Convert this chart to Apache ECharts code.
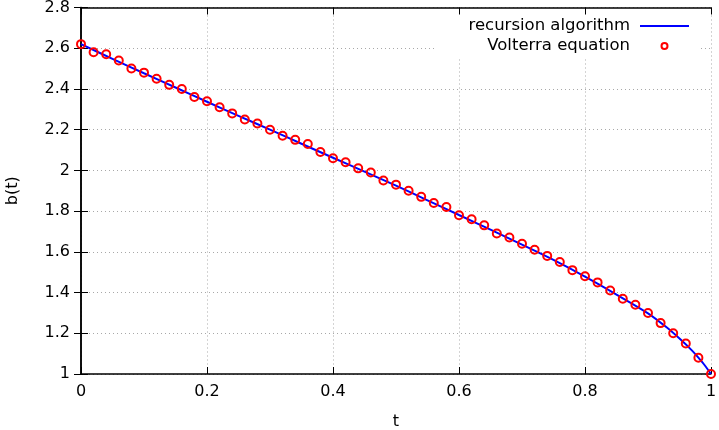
<!DOCTYPE html>
<html>
<head>
<meta charset="utf-8">
<script src="https://cdn.jsdelivr.net/npm/echarts@6/dist/echarts.min.js"></script>
<style>
  html, body { margin: 0; padding: 0; background: #ffffff; }
  #chart { width: 719px; height: 430px; }
</style>
</head>
<body>
<div id="chart"></div>
<script>
// Recursion algorithm curve (t, b(t))
const tLine = [0, 0.05, 0.10, 0.15, 0.20, 0.25, 0.30, 0.35, 0.40, 0.45, 0.50, 0.55, 0.60, 0.65, 0.70, 0.75, 0.80, 0.85, 0.90, 0.93, 0.95, 0.97, 0.98, 0.99, 1.00];
const bLine = [2.620, 2.548, 2.477, 2.407, 2.337, 2.268, 2.200, 2.131, 2.062, 1.994, 1.925, 1.853, 1.781, 1.709, 1.635, 1.560, 1.478, 1.390, 1.298, 1.228, 1.174, 1.115, 1.080, 1.043, 1.000];

// Volterra equation points
const tVolterra = [0, 0.02, 0.04, 0.06, 0.08, 0.10, 0.12, 0.14, 0.16, 0.18, 0.20, 0.22, 0.24, 0.26, 0.28, 0.30, 0.32, 0.34, 0.36, 0.38, 0.40, 0.42, 0.44, 0.46, 0.48, 0.50, 0.52, 0.54, 0.56, 0.58, 0.60, 0.62, 0.64, 0.66, 0.68, 0.70, 0.72, 0.74, 0.76, 0.78, 0.80, 0.82, 0.84, 0.86, 0.88, 0.90, 0.92, 0.94, 0.96, 0.98, 1.00];
const bVolterra = [2.62, 2.58, 2.57, 2.54, 2.50, 2.48, 2.45, 2.42, 2.40, 2.36, 2.34, 2.31, 2.28, 2.25, 2.23, 2.20, 2.17, 2.15, 2.13, 2.09, 2.06, 2.04, 2.01, 1.99, 1.95, 1.93, 1.90, 1.87, 1.84, 1.82, 1.78, 1.76, 1.73, 1.69, 1.67, 1.64, 1.61, 1.58, 1.55, 1.51, 1.48, 1.45, 1.41, 1.37, 1.34, 1.30, 1.25, 1.20, 1.15, 1.08, 1.00];

const seriesNames = ['recursion algorithm', 'Volterra equation'];
const xName = 't';
const yName = 'b(t)';

const FONT = 'DejaVu Sans';
const chart = echarts.init(document.getElementById('chart'), null, { renderer: 'canvas' });

const tickStyle = { show: true, inside: true, length: 7, lineStyle: { color: '#000', width: 1 } };
const axisLineStyle = { show: true, lineStyle: { color: '#000', width: 1.5 } };
const gridLine = { show: true, lineStyle: { color: '#a8a8a8', width: 1, type: [1, 3] } };

chart.setOption({
  animation: false,
  backgroundColor: '#ffffff',
  textStyle: { fontFamily: FONT },
  grid: { left: 81, right: 8, top: 7.5, bottom: 56, outerBoundsMode: 'none', containLabel: false },
  legend: {
    orient: 'vertical',
    align: 'right',
    right: 19,
    top: 15,
    padding: [1, 11, 1, 34],
    backgroundColor: '#ffffff',
    itemGap: 0,
    itemWidth: 49,
    itemHeight: 6,
    textStyle: { fontFamily: FONT, fontSize: 16.5, color: '#000', lineHeight: 20, padding: [0, 5, 0, 0] },
    data: [
      { name: seriesNames[0], icon: 'path://M0,0L49,0L49,2L0,2Z', itemStyle: { color: '#0000ff', borderWidth: 0 } },
      { name: seriesNames[1], icon: 'circle', itemStyle: { color: 'transparent', borderColor: '#ff0000', borderWidth: 2 } }
    ]
  },
  xAxis: [
    {
      type: 'value', min: 0, max: 1, interval: 0.2,
      name: xName, nameLocation: 'middle', nameGap: 40,
      nameTextStyle: { fontFamily: FONT, fontSize: 16, color: '#000' },
      axisLine: axisLineStyle, axisTick: tickStyle,
      axisLabel: { fontFamily: FONT, fontSize: 16, color: '#000', margin: 10 },
      splitLine: gridLine
    },
    {
      type: 'value', min: 0, max: 1, interval: 0.2, position: 'top',
      axisLine: axisLineStyle, axisTick: tickStyle,
      axisLabel: { show: false }, splitLine: { show: false }
    }
  ],
  yAxis: [
    {
      type: 'value', min: 1, max: 2.8, interval: 0.2,
      name: yName, nameLocation: 'middle', nameGap: 60, nameRotate: 90,
      nameTextStyle: { fontFamily: FONT, fontSize: 16, color: '#000' },
      axisLine: axisLineStyle, axisTick: tickStyle,
      axisLabel: { fontFamily: FONT, fontSize: 16, color: '#000', margin: 11 },
      splitLine: gridLine
    },
    {
      type: 'value', min: 1, max: 2.8, interval: 0.2, position: 'right',
      axisLine: axisLineStyle, axisTick: tickStyle,
      axisLabel: { show: false }, splitLine: { show: false }
    }
  ],
  series: [
    {
      name: seriesNames[0],
      type: 'line',
      xAxisIndex: 0, yAxisIndex: 0,
      data: tLine.map((t, i) => [t, bLine[i]]),
      showSymbol: false,
      symbol: 'none',
      smooth: 0.3,
      lineStyle: { color: '#0000ff', width: 2 },
      itemStyle: { color: '#0000ff' },
      z: 2
    },
    {
      name: seriesNames[1],
      type: 'scatter',
      xAxisIndex: 0, yAxisIndex: 0,
      data: tVolterra.map((t, i) => [t, bVolterra[i]]),
      symbol: 'circle',
      symbolSize: 8,
      itemStyle: { color: 'transparent', borderColor: '#ff0000', borderWidth: 2, opacity: 1 },
      z: 3
    }
  ]
});
</script>
</body>
</html>
